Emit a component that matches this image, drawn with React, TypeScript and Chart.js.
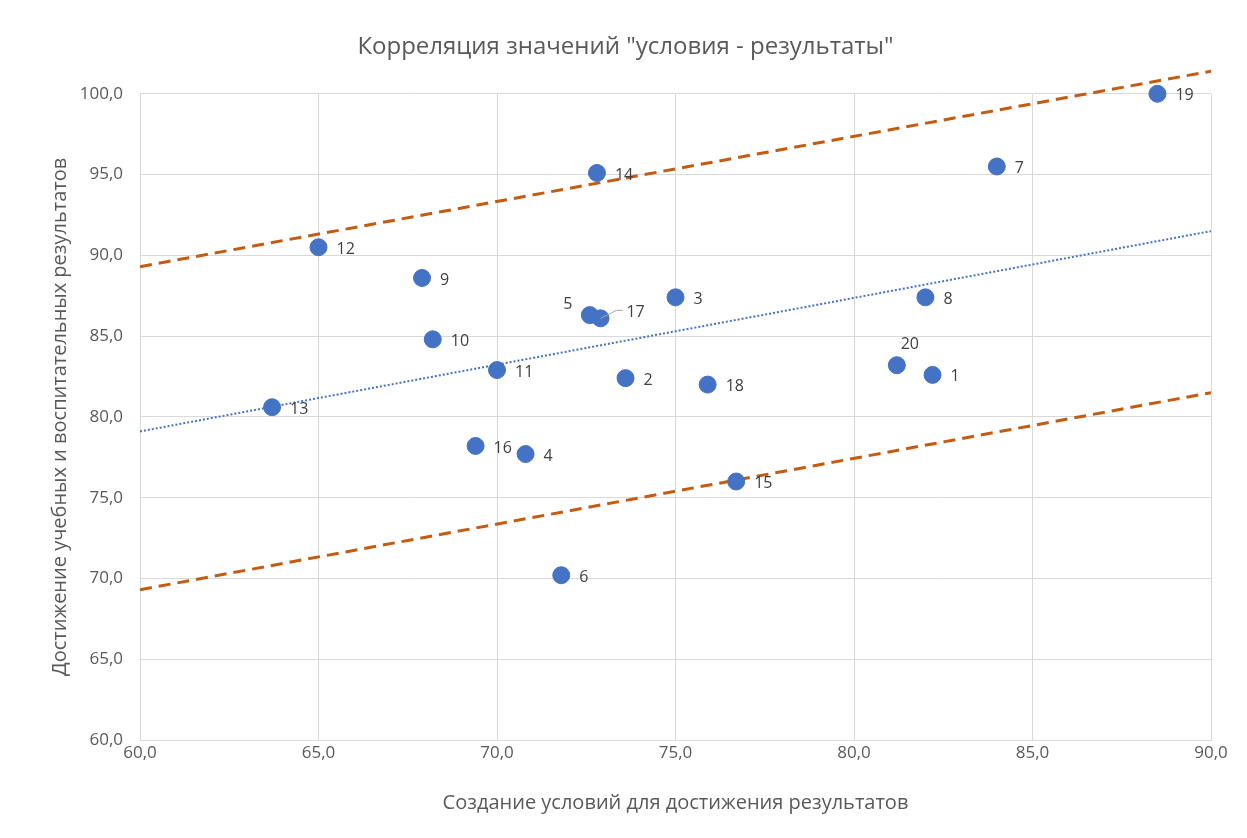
import React, { useEffect, useRef } from "react";
import { Chart, registerables } from "chart.js";

Chart.register(...registerables);

const pointIds = ["1", "2", "3", "4", "5", "6", "7", "8", "9", "10", "11", "12", "13", "14", "15", "16", "17", "18", "19", "20"];
const xValues = [82.2, 73.6, 75.0, 70.8, 72.6, 71.8, 84.0, 82.0, 67.9, 68.2, 70.0, 65.0, 63.7, 72.8, 76.7, 69.4, 72.9, 75.9, 88.5, 81.2];
const yValues = [82.6, 82.4, 87.4, 77.7, 86.3, 70.2, 95.5, 87.4, 88.6, 84.8, 82.9, 90.5, 80.6, 95.1, 76.0, 78.2, 86.1, 82.0, 100.0, 83.2];

const trendX = [60, 90];
const trendY = [79.1, 91.5];
const upperX = [60, 90];
const upperY = [89.3, 101.4];
const lowerX = [60, 90];
const lowerY = [69.3, 81.5];

const titleText = 'Корреляция значений "условия - результаты"';
const xTitle = "Создание условий для достижения результатов";
const yTitle = "Достижение учебных и воспитательных результатов";

const FONT = "'Open Sans', 'DejaVu Sans', sans-serif";
const TEXT = "#595959";
const GRID = "#D9D9D9";
const BLUE = "#4472C4";
const ORANGE = "#C55A11";

// label placement relative to point (default: right of point)
const labelPlacement: Record<string, { dx: number; dy: number; leader?: boolean }> = {
  "20": { dx: 13, dy: -21 },
  "5": { dx: -22, dy: -11 },
  "17": { dx: 35, dy: -6, leader: true },
};

const fmt = (v: number) => v.toFixed(1).replace(".", ",");

const labelsPlugin = {
  id: "pointLabels",
  afterDatasetsDraw(chart: any) {
    const meta = chart.getDatasetMeta(0);
    const ctx = chart.ctx;
    ctx.save();
    ctx.font = `16px ${FONT}`;
    ctx.fillStyle = "#404040";
    ctx.textBaseline = "middle";
    meta.data.forEach((el: any, i: number) => {
      const id = pointIds[i];
      const p = labelPlacement[id];
      if (p) {
        ctx.textAlign = "center";
        if (p.leader) {
          ctx.strokeStyle = "#A6A6A6";
          ctx.lineWidth = 1;
          ctx.beginPath();
          ctx.moveTo(el.x, el.y);
          ctx.lineTo(el.x + 16, el.y - 8);
          ctx.lineTo(el.x + 22, el.y - 8);
          ctx.stroke();
        }
        ctx.fillText(id, el.x + p.dx, el.y + p.dy);
      } else {
        ctx.textAlign = "left";
        ctx.fillText(id, el.x + 18, el.y + 2);
      }
    });
    ctx.restore();
  },
};

export default function App() {
  const ref = useRef<HTMLCanvasElement | null>(null);
  useEffect(() => {
    document.body.style.margin = "0";
    const canvas = ref.current;
    if (!canvas) return;
    const chart = new Chart(canvas, {
      type: "scatter",
      data: {
        datasets: [
          {
            label: "points",
            data: xValues.map((x, i) => ({ x, y: yValues[i] })),
            backgroundColor: BLUE,
            borderColor: BLUE,
            pointRadius: 8.5,
            pointHoverRadius: 8.5,
            clip: false,
            order: 0,
          },
          {
            label: "trend",
            type: "line",
            data: trendX.map((x, i) => ({ x, y: trendY[i] })),
            borderColor: BLUE,
            borderWidth: 2,
            borderDash: [2, 2],
            pointRadius: 0,
            fill: false,
            order: 1,
          },
          {
            label: "upper",
            type: "line",
            data: upperX.map((x, i) => ({ x, y: upperY[i] })),
            borderColor: ORANGE,
            borderWidth: 3,
            borderDash: [12, 7],
            pointRadius: 0,
            fill: false,
            clip: false,
            order: 1,
          },
          {
            label: "lower",
            type: "line",
            data: lowerX.map((x, i) => ({ x, y: lowerY[i] })),
            borderColor: ORANGE,
            borderWidth: 3,
            borderDash: [12, 7],
            pointRadius: 0,
            fill: false,
            order: 1,
          },
        ],
      } as any,
      options: {
        animation: false,
        responsive: false,
        layout: { padding: { left: 40, right: 36, top: 0, bottom: 0 } },
        plugins: {
          legend: { display: false },
          tooltip: { enabled: false },
          title: {
            display: true,
            text: titleText,
            color: TEXT,
            font: { family: FONT, size: 24, weight: "normal" },
            padding: { top: 33, bottom: 32 },
          },
        },
        scales: {
          x: {
            type: "linear",
            min: 60,
            max: 90,
            afterFit: (s: any) => {
              s.height = 98;
            },
            ticks: {
              stepSize: 5,
              color: TEXT,
              font: { family: FONT, size: 17 },
              padding: 3,
              callback: (v: any) => fmt(Number(v)),
            },
            grid: { color: GRID, lineWidth: 1, drawTicks: false },
            border: { color: GRID },
            title: {
              display: true,
              text: xTitle,
              color: TEXT,
              font: { family: FONT, size: 20 },
              padding: { top: 0, bottom: 23 },
            },
          },
          y: {
            type: "linear",
            min: 60,
            max: 100,
            afterFit: (s: any) => {
              s.width = 100;
            },
            ticks: {
              stepSize: 5,
              color: TEXT,
              font: { family: FONT, size: 17 },
              padding: 17,
              callback: (v: any) => fmt(Number(v)),
            },
            grid: { color: GRID, lineWidth: 1, drawTicks: false },
            border: { color: GRID },
            title: {
              display: true,
              text: yTitle,
              color: TEXT,
              font: { family: FONT, size: 20 },
              padding: { top: 8, bottom: 0 },
            },
          },
        },
      } as any,
      plugins: [labelsPlugin],
    });
    return () => chart.destroy();
  }, []);
  return <canvas ref={ref} width={1247} height={838} style={{ display: "block" }} />;
}
